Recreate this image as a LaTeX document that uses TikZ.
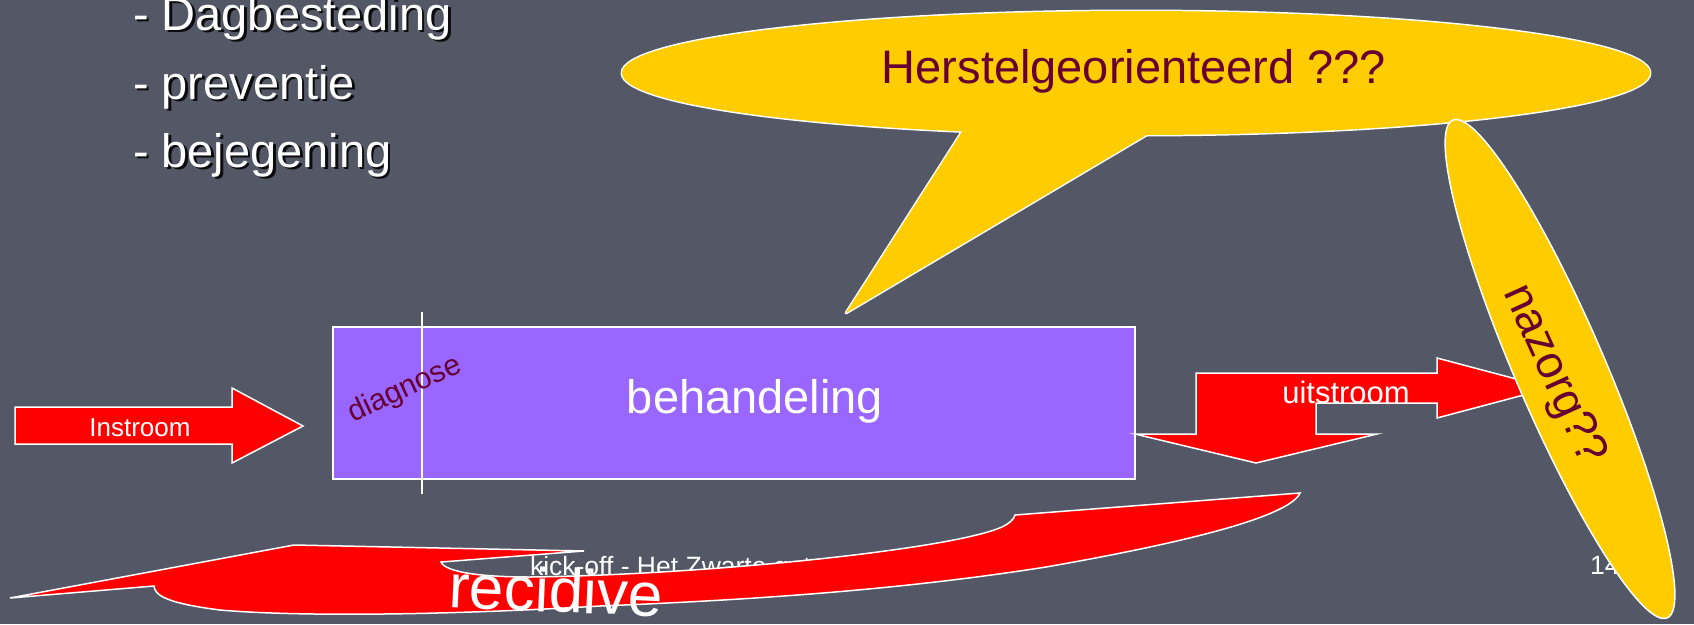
\documentclass[tikz,border=0pt]{standalone}
\usepackage{fontspec}
\setmainfont{Liberation Sans}
\usetikzlibrary{shapes.geometric}
\definecolor{bg}{RGB}{84,87,101}
\definecolor{calloutyellow}{RGB}{255,204,0}
\definecolor{arrowred}{RGB}{255,0,0}
\definecolor{boxpurple}{RGB}{153,102,255}
\definecolor{darkmaroon}{RGB}{102,0,51}
\begin{document}
\begin{tikzpicture}[x=1pt,y=-1pt,
  every node/.style={inner sep=0pt, outer sep=0pt},
  listtext/.style={anchor=base west, text=white, font=\fontsize{47}{56}\selectfont},
  listshadow/.style={listtext, text=black, opacity=0.85},
  redshape/.style={fill=arrowred, draw=white, line width=1.5pt, line join=miter},
  smalltext/.style={text=white, font=\fontsize{26.5}{30}\selectfont},
  bigwhite/.style={text=white, font=\fontsize{47}{56}\selectfont},
  maroontext/.style={text=darkmaroon},
  outline/.style={draw=white, line width=3pt, line join=round}
]
\useasboundingbox (0,0) rectangle (1694,624);
\fill[bg] (0,0) rectangle (1694,624);

% bullet list (with drop shadow)
\node[listshadow] (l1s) at (135.5,32.5) {- Dagbesteding};
\node[listshadow] (l2s) at (135.5,101.5) {- preventie};
\node[listshadow] (l3s) at (135.5,169.5) {- bejegening};
\node[listtext] (l1) at (133,30) {- Dagbesteding};
\node[listtext] (l2) at (133,99) {- preventie};
\node[listtext] (l3) at (133,167) {- bejegening};

% callout
\path[outline] (1136,73) ellipse [x radius=514pt, y radius=62pt];
\path[outline] (965,127) -- (846,313) -- (1160,127) -- cycle;
\fill[calloutyellow] (1136,73) ellipse [x radius=514pt, y radius=62pt];
\fill[calloutyellow] (965,127) -- (846,313) -- (1160,127) -- cycle;
\node[maroontext, font=\fontsize{47}{56}\selectfont, anchor=base] (herstel) at (1134,83) {Herstelgeorienteerd ???};

% instroom arrow
\filldraw[redshape] (15,407) -- (232,407) -- (232,388) -- (303,426) -- (232,463) -- (232,444) -- (15,444) -- cycle;
\node[text=white, font=\fontsize{26}{30}\selectfont, anchor=base] (instroom) at (140,436) {Instroom};

% behandeling box
\node[draw=white, fill=boxpurple, line width=1.5pt, minimum width=802pt, minimum height=152pt, anchor=north west] (box) at (333,327) {};
\draw[white, line width=1.5pt] (422,312) -- (422,494);
\node[bigwhite, anchor=base] (behandeling) at (755,413) {behandeling};
\node[maroontext, rotate=25, font=\fontsize{30}{36}\selectfont] (diagnose) at (405,390) {diagnose};

% uitstroom arrow
\filldraw[redshape] (1135,434) -- (1196,434) -- (1196,373) -- (1437,373) -- (1437,358) -- (1550,388) -- (1437,418) -- (1437,403) -- (1316,403) -- (1316,434) -- (1377,434) -- (1256,463) -- cycle;
\node[text=white, font=\fontsize{31}{36}\selectfont, anchor=base] (uitstroom) at (1346,403) {uitstroom};

% footer
\node[smalltext, anchor=base west] (footer) at (530,575) {kick-off - Het Zwarte gat};
\node[smalltext, anchor=base west] (pagenum) at (1590,574) {14};

% recidive arrow
\filldraw[redshape] (10,598) -- (294,545) -- (584,551) -- (441,562)
  .. controls (445,572) and (480,577) .. (530,577)
  .. controls (700,575) and (950,550) .. (1002,527)
  .. controls (1010,523) and (1014,519) .. (1015,515)
  -- (1300,493)
  .. controls (1290,515) and (1200,540) .. (1046,567)
  .. controls (900,590) and (750,600) .. (600,606)
  .. controls (450,615) and (300,617) .. (220,610)
  .. controls (165,603) and (155,595) .. (154,586)
  -- cycle;
\node[text=white, rotate=-2.5, font=\fontsize{62}{70}\selectfont, anchor=base] (recidive) at (555,612) {recidive};

% nazorg
\node[ellipse, draw=white, fill=calloutyellow, line width=1.5pt, minimum width=542pt, minimum height=90pt, rotate=-66.7] (nazorgshape) at (1560,369) {};
\node[maroontext, rotate=-65.6, font=\fontsize{46}{55}\selectfont] (nazorg) at (1553,375) {nazorg??};
\end{tikzpicture}
\end{document}
